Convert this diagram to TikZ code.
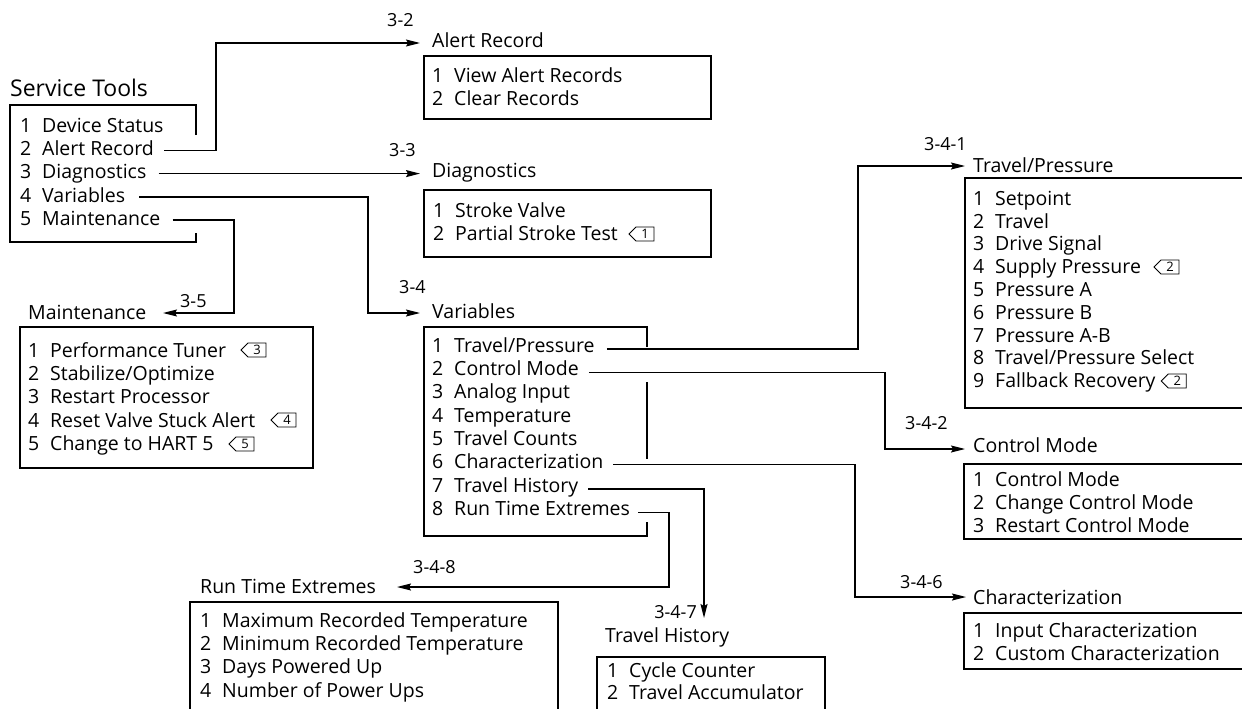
\documentclass[tikz,border=0pt]{standalone}
\usepackage{fontspec}
\setmainfont{Open Sans}
\usetikzlibrary{arrows.meta,shapes.symbols}
\newcommand{\itm}[2]{\makebox[22pt][l]{#1}#2}
\begin{document}
\begin{tikzpicture}[x=1pt,y=-1pt,
 every node/.style={inner sep=0pt, font=\fontsize{19.5}{21}\selectfont},
 itemtxt/.style={anchor=base west},
 titletxt/.style={anchor=base west},
 reflbl/.style={anchor=base west, font=\fontsize{18}{20}\selectfont},
 menubox/.style={draw, line width=1.1pt},
 conn/.style={line width=1.3pt},
 arr/.style={conn, -{Stealth[length=14pt,width=7pt,inset=2pt]}},
 notetag/.style={draw, line width=0.8pt, signal, signal to=west, signal from=nowhere, minimum height=14pt, minimum width=25pt, font=\fontsize{13}{13}\selectfont, inner sep=1pt}
]
\useasboundingbox (0,0) rectangle (1242,709);
\clip (0,0) rectangle (1242,709);

% ---------- Service Tools ----------
\node[titletxt, font=\fontsize{23}{25}\selectfont] (stT) at (10,96) {Service Tools};
\node[itemtxt] (st1) at (20,132) {\itm{1}{Device Status}};
\node[itemtxt] (st2) at (20,155.3) {\itm{2}{Alert Record}};
\node[itemtxt] (st3) at (20,178.6) {\itm{3}{Diagnostics}};
\node[itemtxt] (st4) at (20,202) {\itm{4}{Variables}};
\node[itemtxt] (st5) at (20,225) {\itm{5}{Maintenance}};
\draw[menubox] (196,135) -- (196,105) -- (10,105) -- (10,242) -- (196,242) -- (196,233);

% ---------- Alert Record ----------
\coordinate (tipAR) at (420,43);
\node[titletxt] (arT) at (432,48) {Alert Record};
\draw[menubox] (424,56) rectangle (711,119);
\node[itemtxt] (ar1) at (432,82) {\itm{1}{View Alert Records}};
\node[itemtxt] (ar2) at (432,105) {\itm{2}{Clear Records}};
\node[reflbl] (lAR) at (387,27) {3-2};

% ---------- Diagnostics ----------
\coordinate (tipDG) at (420,172);
\node[titletxt] (dgT) at (432,177) {Diagnostics};
\draw[menubox] (424,190) rectangle (711,257);
\node[itemtxt] (dg1) at (433,217) {\itm{1}{Stroke Valve}};
\node[itemtxt] (dg2) at (433,240) {\itm{2}{Partial Stroke Test}};
\node[notetag] (n1) at (645,234) {1};
\node[reflbl] (lDG) at (389,156) {3-3};

% ---------- Variables ----------
\coordinate (tipVA) at (420,313);
\node[titletxt] (vaT) at (432,318) {Variables};
\node[itemtxt] (va1) at (432,352) {\itm{1}{Travel/Pressure}};
\node[itemtxt] (va2) at (432,375.3) {\itm{2}{Control Mode}};
\node[itemtxt] (va3) at (432,398.6) {\itm{3}{Analog Input}};
\node[itemtxt] (va4) at (432,422) {\itm{4}{Temperature}};
\node[itemtxt] (va5) at (432,445.3) {\itm{5}{Travel Counts}};
\node[itemtxt] (va6) at (432,468.6) {\itm{6}{Characterization}};
\node[itemtxt] (va7) at (432,492) {\itm{7}{Travel History}};
\node[itemtxt] (va8) at (432,515.3) {\itm{8}{Run Time Extremes}};
\draw[menubox] (647,347) -- (647,327) -- (424,327) -- (424,536) -- (647,536) -- (647,522);
\draw[menubox] (647,382) -- (647,459);
\node[reflbl] (lVA) at (399,293) {3-4};

% ---------- Maintenance ----------
\coordinate (tipMT) at (163,313);
\node[titletxt] (mtT) at (28,319) {Maintenance};
\draw[menubox] (20,327) rectangle (313,468);
\node[itemtxt] (mt1) at (28,357) {\itm{1}{Performance Tuner}};
\node[itemtxt] (mt2) at (28,380.3) {\itm{2}{Stabilize/Optimize}};
\node[itemtxt] (mt3) at (28,403.6) {\itm{3}{Restart Processor}};
\node[itemtxt] (mt4) at (28,427) {\itm{4}{Reset Valve Stuck Alert}};
\node[itemtxt] (mt5) at (28,450.3) {\itm{5}{Change to HART 5}};
\node[notetag] (n3) at (257,350) {3};
\node[notetag] (n4) at (287,420) {4};
\node[notetag] (n5) at (245,444) {5};
\node[reflbl] (lMT) at (180,307) {3-5};

% ---------- Travel/Pressure ----------
\coordinate (tipTP) at (965,166);
\node[titletxt] (tpT) at (973,172) {Travel/Pressure};
\draw[menubox] (965,178) rectangle (1260,408);
\node[itemtxt] (tp1) at (973,205) {\itm{1}{Setpoint}};
\node[itemtxt] (tp2) at (973,228) {\itm{2}{Travel}};
\node[itemtxt] (tp3) at (973,250.5) {\itm{3}{Drive Signal}};
\node[itemtxt] (tp4) at (973,273) {\itm{4}{Supply Pressure}};
\node[itemtxt] (tp5) at (973,296) {\itm{5}{Pressure A}};
\node[itemtxt] (tp6) at (973,319) {\itm{6}{Pressure B}};
\node[itemtxt] (tp7) at (973,342) {\itm{7}{Pressure A-B}};
\node[itemtxt] (tp8) at (973,364.5) {\itm{8}{Travel/Pressure Select}};
\node[itemtxt] (tp9) at (973,387) {\itm{9}{Fallback Recovery}};
\node[notetag] (n2a) at (1170,267) {2};
\node[notetag, anchor=west] (n2b) at ([shift={(5pt,6pt)}]tp9.base east) {2};
\node[reflbl] (lTP) at (924,150) {3-4-1};

% ---------- Control Mode ----------
\coordinate (tipCM) at (965,449);
\node[titletxt] (cmT) at (973,452) {Control Mode};
\draw[menubox] (964,464) rectangle (1260,539);
\node[itemtxt] (cm1) at (973,486) {\itm{1}{Control Mode}};
\node[itemtxt] (cm2) at (973,509) {\itm{2}{Change Control Mode}};
\node[itemtxt] (cm3) at (973,532) {\itm{3}{Restart Control Mode}};
\node[reflbl] (lCM) at (905,429) {3-4-2};

% ---------- Characterization ----------
\coordinate (tipCH) at (966,597);
\node[titletxt] (chT) at (973,604) {Characterization};
\draw[menubox] (964,613) rectangle (1260,669);
\node[itemtxt] (ch1) at (973,637) {\itm{1}{Input Characterization}};
\node[itemtxt] (ch2) at (973,660) {\itm{2}{Custom Characterization}};
\node[reflbl] (lCH) at (900,588) {3-4-6};

% ---------- Travel History ----------
\coordinate (tipTH) at (704,618);
\node[titletxt] (thT) at (605,642) {Travel History};
\draw[menubox] (597,657) rectangle (825,730);
\node[itemtxt] (th1) at (607,677) {\itm{1}{Cycle Counter}};
\node[itemtxt] (th2) at (607,699.5) {\itm{2}{Travel Accumulator}};
\node[reflbl, anchor=base east] (lTH) at (697,618) {3-4-7};

% ---------- Run Time Extremes ----------
\coordinate (tipRT) at (397,587);
\node[titletxt] (rtT) at (200,593) {Run Time Extremes};
\draw[menubox] (190,602) rectangle (558,730);
\node[itemtxt] (rt1) at (200,627) {\itm{1}{Maximum Recorded Temperature}};
\node[itemtxt] (rt2) at (200,650.3) {\itm{2}{Minimum Recorded Temperature}};
\node[itemtxt] (rt3) at (200,673.6) {\itm{3}{Days Powered Up}};
\node[itemtxt] (rt4) at (200,697) {\itm{4}{Number of Power Ups}};
\node[reflbl] (lRT) at (413,573) {3-4-8};

% ---------- connectors ----------
\coordinate (kAR) at (216,43);
\coordinate (kVA) at (368,313);
\coordinate (kMT) at (234,313);
\coordinate (kTP) at (858,166);
\coordinate (kCM) at (885,449);
\coordinate (kCH) at (855,597);
\coordinate (kRT) at (669,587);
\coordinate (sDG) at ([shift={(12pt,5pt)}]st3.base east);

\draw[arr] ([shift={(10pt,5pt)}]st2.base east) -| (kAR) -- (tipAR);
\draw[arr] (sDG) -- (sDG -| tipDG);
\draw[arr] ([shift={(14pt,5pt)}]st4.base east) -| (kVA) -- (tipVA);
\draw[arr] ([shift={(12pt,5pt)}]st5.base east) -| (kMT) -- (tipMT);
\draw[arr] ([shift={(12pt,3pt)}]va1.base east) -| (kTP) -- (tipTP);
\draw[arr] ([shift={(10pt,3pt)}]va2.base east) -| (kCM) -- (tipCM);
\draw[arr] ([shift={(10pt,4pt)}]va6.base east) -| (kCH) -- (tipCH);
\draw[arr] ([shift={(10pt,3pt)}]va7.base east) -| (tipTH);
\draw[arr] ([shift={(8pt,3pt)}]va8.base east) -| (kRT) -- (tipRT);
\end{tikzpicture}
\end{document}
